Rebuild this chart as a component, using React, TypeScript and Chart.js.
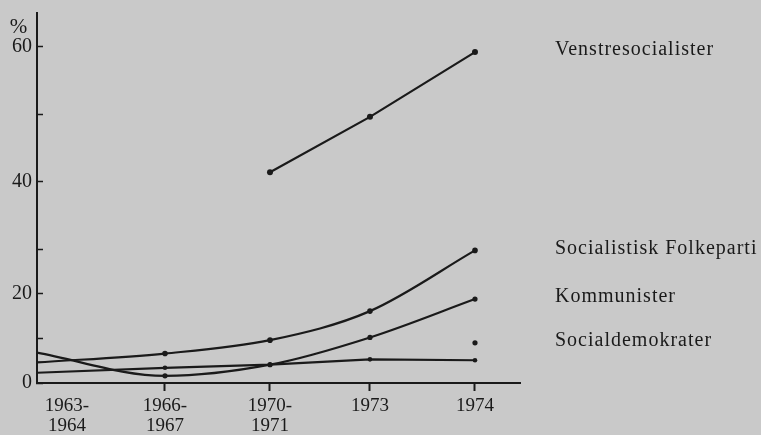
import React, { useEffect, useRef } from 'react';
import { Chart, registerables, LinearScale, CategoryScale } from 'chart.js';

// ---- data ----
const CATEGORIES: string[][] = [['1963-', '1964'], ['1966-', '1967'], ['1970-', '1971'], ['1973'], ['1974']];
const VENSTRESOCIALISTER = [null, null, 41.4, 49.6, 59.2];
const SOCIALISTISK_FOLKEPARTI = [4.6, 6.6, 9.6, 16.1, 29.7];
const KOMMUNISTER = [6.8, 1.6, 4.1, 10.2, 18.8];
const SOCIALDEMOKRATER = [null, null, null, null, 9.0];
const UNLABELLED = [2.3, 3.4, 4.1, 5.3, 5.1];
const Y_TICKS = [0, 10, 20, 30, 40, 50, 60];
const Y_TICK_LABELS = ['0', '', '20', '', '40', '', '60'];
const Y_UNIT = '%';

// ---- scale geometry (the printed axis is not uniform) ----
const Y_MAX = 65;
const Y_BREAK = 30;
const Y_BREAK_SHARE = 0.362;
const X_POINT_SHARE = [0, 0.265, 0.4824, 0.6894, 0.9068];
const X_LABEL_SHARE = [0.062, 0.265, 0.4824, 0.6894, 0.9068];

const INK = '#1a1a1a';
const PAPER = '#c9c9c9';
const FONT = '"Liberation Serif", "Times New Roman", serif';

function yShare(v: number) {
  return v <= Y_BREAK
    ? (v / Y_BREAK) * Y_BREAK_SHARE
    : Y_BREAK_SHARE + ((v - Y_BREAK) / (Y_MAX - Y_BREAK)) * (1 - Y_BREAK_SHARE);
}
function yFromShare(d: number) {
  return d <= Y_BREAK_SHARE
    ? (d / Y_BREAK_SHARE) * Y_BREAK
    : Y_BREAK + ((d - Y_BREAK_SHARE) / (1 - Y_BREAK_SHARE)) * (Y_MAX - Y_BREAK);
}
function interpShare(arr: number[], v: number) {
  const i = Math.max(0, Math.min(Math.floor(v), arr.length - 2));
  return arr[i] + (arr[i + 1] - arr[i]) * (v - i);
}

class BrokenLinearScale extends LinearScale {
  static id = 'brokenLinear';
  getPixelForValue(value: any) {
    return this.getPixelForDecimal(yShare(value));
  }
  getValueForPixel(pixel: number) {
    return yFromShare(this.getDecimalForPixel(pixel));
  }
}

class PlacedCategoryScale extends CategoryScale {
  static id = 'placedCategory';
  getPixelForValue(value: any) {
    if (typeof value !== 'number') value = (this as any).parse(value);
    if (value === null || value === undefined || isNaN(value)) return NaN;
    return this.getPixelForDecimal(interpShare(X_POINT_SHARE, value));
  }
  getPixelForTick(index: number) {
    const t = (this as any).ticks[index];
    if (!t) return null as any;
    return this.getPixelForDecimal(X_LABEL_SHARE[t.value]);
  }
  getValueForPixel(pixel: number) {
    const d = this.getDecimalForPixel(pixel);
    let best = 0;
    X_POINT_SHARE.forEach((s, i) => {
      if (Math.abs(s - d) < Math.abs(X_POINT_SHARE[best] - d)) best = i;
    });
    return best;
  }
}

Chart.register(...registerables, BrokenLinearScale, PlacedCategoryScale);

const annotate = {
  id: 'annotate',
  afterDraw(chart: any) {
    const { ctx, chartArea, scales } = chart;
    ctx.save();
    ctx.fillStyle = INK;
    ctx.font = `21px ${FONT}`;
    ctx.textAlign = 'center';
    ctx.textBaseline = 'middle';
    ctx.fillText(Y_UNIT, chartArea.left - 18.5, chartArea.top + 14);
    ctx.font = `20px ${FONT}`;
    (ctx as any).letterSpacing = '1px';
    ctx.textAlign = 'left';
    chart.data.datasets.forEach((ds: any) => {
      if (!ds.label) return;
      let last: number | null = null;
      ds.data.forEach((v: any) => {
        if (v !== null && v !== undefined) last = v;
      });
      if (last === null) return;
      const y = scales.y.getPixelForValue(last) - 2;
      ctx.fillText(ds.label, chartArea.right + 35, y);
    });
    ctx.restore();
  },
};

const hideFirst = (r: number) => (c: any) => (c.dataIndex === 0 ? 0 : r);

export default function App() {
  const ref = useRef<HTMLCanvasElement | null>(null);
  useEffect(() => {
    if (!ref.current) return;
    const base = {
      borderColor: INK,
      backgroundColor: INK,
      pointBackgroundColor: INK,
      pointBorderColor: INK,
      pointBorderWidth: 0,
      borderWidth: 2.2,
      fill: false,
    };
    const chart = new Chart(ref.current, {
      type: 'line',
      data: {
        labels: CATEGORIES as any,
        datasets: [
          { ...base, label: 'Venstresocialister', data: VENSTRESOCIALISTER, pointRadius: 3, tension: 0 },
          { ...base, label: 'Socialistisk Folkeparti', data: SOCIALISTISK_FOLKEPARTI, pointRadius: hideFirst(2.8), cubicInterpolationMode: 'monotone' },
          { ...base, label: 'Kommunister', data: KOMMUNISTER, pointRadius: hideFirst(2.6), cubicInterpolationMode: 'monotone' },
          { ...base, label: 'Socialdemokrater', data: SOCIALDEMOKRATER, pointRadius: 2.6, showLine: false },
          { ...base, label: '', data: UNLABELLED, pointRadius: hideFirst(2.3), tension: 0 },
        ] as any,
      },
      options: {
        animation: false,
        responsive: false,
        events: [],
        layout: { padding: { top: 13, right: 241, left: 0, bottom: 0 } },
        plugins: { legend: { display: false }, tooltip: { enabled: false } },
        scales: {
          x: {
            type: 'placedCategory' as any,
            offset: false,
            afterFit: (s: any) => {
              s.height = 52;
              s.paddingLeft = 0;
              s.paddingRight = 0;
            },
            border: { display: true, color: INK, width: 2 },
            grid: {
              display: true,
              drawOnChartArea: false,
              drawTicks: true,
              tickLength: 8,
              tickWidth: 2,
              tickColor: (c: any) => (c.index === 0 ? 'rgba(0,0,0,0)' : INK),
            },
            ticks: {
              autoSkip: false,
              maxRotation: 0,
              minRotation: 0,
              padding: 5,
              color: INK,
              font: { family: FONT, size: 19, lineHeight: 1.07 },
            },
          },
          y: {
            type: 'brokenLinear' as any,
            min: 0,
            max: Y_MAX,
            afterFit: (s: any) => {
              s.width = 37;
              s.paddingTop = 0;
              s.paddingBottom = 0;
            },
            afterBuildTicks: (s: any) => { s.ticks = Y_TICKS.map((v) => ({ value: v })); },
            border: { display: true, color: INK, width: 2 },
            grid: {
              display: true,
              drawOnChartArea: false,
              drawTicks: true,
              tickLength: -6,
              tickWidth: 1.5,
              tickColor: INK,
            },
            ticks: {
              padding: 11,
              color: INK,
              font: { family: FONT, size: 20 },
              callback: (v: any) => {
                const i = Y_TICKS.indexOf(Number(v));
                return i >= 0 ? Y_TICK_LABELS[i] : '';
              },
            },
          },
        },
      } as any,
      plugins: [annotate],
    });
    return () => chart.destroy();
  }, []);
  return (
    <div style={{ position: 'absolute', left: 0, top: 0, width: 761, height: 435, background: PAPER }}>
      <canvas ref={ref} width={761} height={435} style={{ display: 'block' }} />
    </div>
  );
}
